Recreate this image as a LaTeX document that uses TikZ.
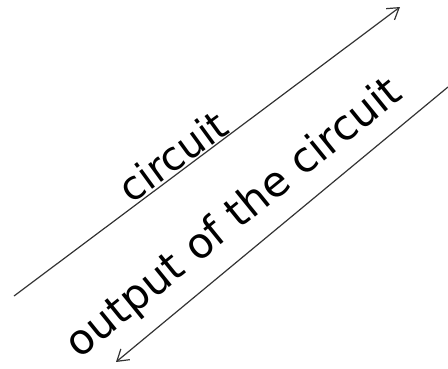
\documentclass[tikz,border=0pt]{standalone}
\usepackage{fontspec}
\setmainfont{DejaVu Sans}
\usetikzlibrary{arrows.meta}
\begin{document}
\begin{tikzpicture}[x=1pt,y=-1pt,
  conn/.style={draw=black!80, line width=1.2pt, -{Straight Barb[length=11pt,width=14pt,line width=1.2pt]}},
  lbl/.style={font=\fontsize{40}{48}\selectfont, inner sep=0pt, anchor=base}]
\useasboundingbox (0,0) rectangle (448,368);
\coordinate (a1) at (14,296);
\coordinate (a2) at (400,7);
\coordinate (b1) at (448,87);
\coordinate (b2) at (116,362);
\draw[conn] (a1) -- (a2);
\draw[conn] (b1) -- (b2);
\node[lbl, rotate=36] (t1) at (181,168) {circuit};
\node[lbl, rotate=39, font=\fontsize{42}{50}\selectfont] (t2) at (242,228) {output of the circuit};
\end{tikzpicture}
\end{document}
